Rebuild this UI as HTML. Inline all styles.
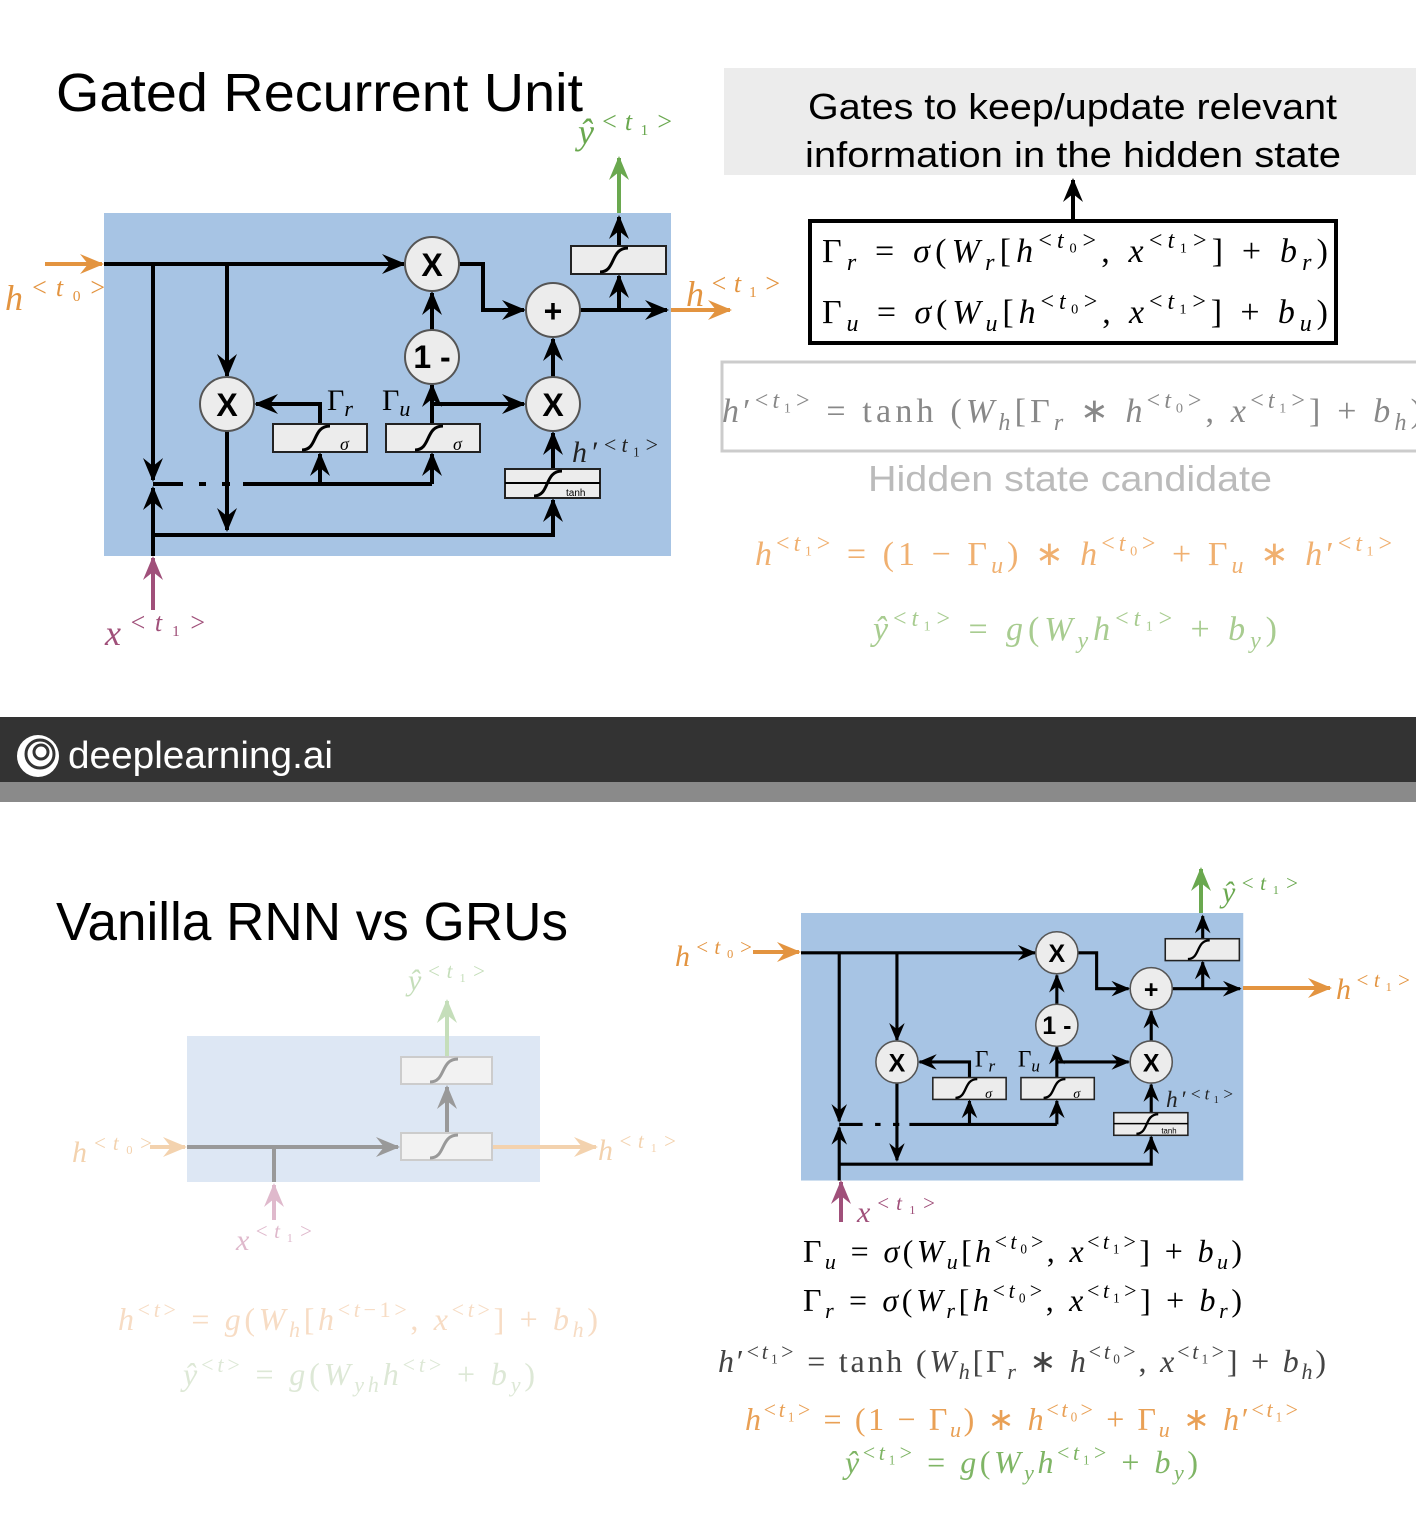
<!DOCTYPE html>
<html><head><meta charset="utf-8">
<style>
html,body{margin:0;padding:0;background:#fff;}
svg{display:block;}
.sf{font-family:"Liberation Serif",serif;}
.ss{font-family:"Liberation Sans",sans-serif;}
</style></head>
<body>
<svg width="1416" height="1516" viewBox="0 0 1416 1516" xmlns="http://www.w3.org/2000/svg">
<defs>
<marker id="ak" viewBox="0 0 12 10" refX="11" refY="5" markerWidth="24" markerHeight="20" markerUnits="userSpaceOnUse" orient="auto"><path d="M0,0 L12,5 L0,10 L4,5z" fill="#000"/></marker>
<marker id="ao" viewBox="0 0 12 10" refX="11" refY="5" markerWidth="24" markerHeight="20" markerUnits="userSpaceOnUse" orient="auto"><path d="M0,0 L12,5 L0,10 L4,5z" fill="#e39440"/></marker>
<marker id="ag" viewBox="0 0 12 10" refX="11" refY="5" markerWidth="24" markerHeight="20" markerUnits="userSpaceOnUse" orient="auto"><path d="M0,0 L12,5 L0,10 L4,5z" fill="#6aa84f"/></marker>
<marker id="ap" viewBox="0 0 12 10" refX="11" refY="5" markerWidth="24" markerHeight="20" markerUnits="userSpaceOnUse" orient="auto"><path d="M0,0 L12,5 L0,10 L4,5z" fill="#a0507a"/></marker>
<marker id="fk" viewBox="0 0 12 10" refX="11" refY="5" markerWidth="24" markerHeight="20" markerUnits="userSpaceOnUse" orient="auto"><path d="M0,0 L12,5 L0,10 L4,5z" fill="#999"/></marker>
<marker id="fo" viewBox="0 0 12 10" refX="11" refY="5" markerWidth="24" markerHeight="20" markerUnits="userSpaceOnUse" orient="auto"><path d="M0,0 L12,5 L0,10 L4,5z" fill="#f3d2ae"/></marker>
<marker id="fg" viewBox="0 0 12 10" refX="11" refY="5" markerWidth="24" markerHeight="20" markerUnits="userSpaceOnUse" orient="auto"><path d="M0,0 L12,5 L0,10 L4,5z" fill="#c5deba"/></marker>
<marker id="fp" viewBox="0 0 12 10" refX="11" refY="5" markerWidth="24" markerHeight="20" markerUnits="userSpaceOnUse" orient="auto"><path d="M0,0 L12,5 L0,10 L4,5z" fill="#dfb9cc"/></marker>
</defs>

<!-- TOP TITLE -->
<text x="56" y="111" class="ss" font-size="54" fill="#000" textLength="527" lengthAdjust="spacingAndGlyphs">Gated Recurrent Unit</text>

<!-- TOP GRU -->
<g>
<rect x="104" y="213" width="567" height="343" fill="#a7c4e4"/>
<g stroke="#000" stroke-width="4" fill="none">
<path d="M104,264 H404" marker-end="url(#ak)"/>
<path d="M153,264 V480" marker-end="url(#ak)"/>
<path d="M227,264 V376" marker-end="url(#ak)"/>
<path d="M227,431 V530" marker-end="url(#ak)"/>
<path d="M153,556 V488" marker-end="url(#ak)"/>
<path d="M153,535 H553 V500" marker-end="url(#ak)"/>
<path d="M153,484 H183 M199,484 H206 M222,484 H230 M243,484 H432"/>
<path d="M320,484 V454" marker-end="url(#ak)"/>
<path d="M432,484 V454" marker-end="url(#ak)"/>
<path d="M320,424 V404 H256" marker-end="url(#ak)"/>
<path d="M432,424 V385" marker-end="url(#ak)"/>
<path d="M432,404 H524" marker-end="url(#ak)"/>
<path d="M432,330 V293" marker-end="url(#ak)"/>
<path d="M459,264 H483 V310 H524" marker-end="url(#ak)"/>
<path d="M553,377 V339" marker-end="url(#ak)"/>
<path d="M553,469 V433" marker-end="url(#ak)"/>
<path d="M580,310 H667" marker-end="url(#ak)"/>
<path d="M619,310 V276" marker-end="url(#ak)"/>
<path d="M619,246 V217" marker-end="url(#ak)"/>
</g>
<g fill="#ececec" stroke="#555" stroke-width="2">
<circle cx="432" cy="264" r="27"/><circle cx="553" cy="310" r="27"/><circle cx="432" cy="357" r="27"/>
<circle cx="227" cy="404" r="27"/><circle cx="553" cy="404" r="27"/>
</g>
<g fill="#ececec" stroke="#222" stroke-width="2">
<rect x="273" y="424" width="94" height="28"/><rect x="386" y="424" width="94" height="28"/>
<rect x="571" y="246" width="95" height="28"/><rect x="505" y="469" width="95" height="29"/>
</g>
<path d="M505,483 H600" stroke="#000" stroke-width="2"/>
<g stroke="#000" stroke-width="3" fill="none">
<path d="M302,450 C318,450 312,426 330,426"/><path d="M415,450 C431,450 425,426 443,426"/>
<path d="M600,272 C616,272 610,248 628,248"/><path d="M534,496 C550,496 544,471 562,471"/>
</g>
<g class="sf" font-style="italic" font-size="18" fill="#000"><text x="340" y="450">σ</text><text x="453" y="450">σ</text></g>
<text x="566" y="496" class="ss" font-size="10">tanh</text>
<g class="ss" font-weight="bold" font-size="32" fill="#000" text-anchor="middle">
<text x="432" y="276">X</text><text x="553" y="322">+</text><text x="432" y="368">1 -</text>
<text x="227" y="416">X</text><text x="553" y="416">X</text>
</g>
<text x="327" y="410" class="sf" font-size="30">Γ<tspan font-style="italic" font-size="22" dy="6">r</tspan></text>
<text x="382" y="410" class="sf" font-size="30">Γ<tspan font-style="italic" font-size="22" dy="6">u</tspan></text>
<text x="572" y="462" class="sf" font-size="30" fill="#222" textLength="86" lengthAdjust="spacing"><tspan font-style="italic">h</tspan>′<tspan font-size="22" dy="-10">&lt;<tspan font-style="italic">t</tspan>₁&gt;</tspan></text>
</g>

<!-- top colored arrows -->
<path d="M45,264 H102" stroke="#e39440" stroke-width="4" marker-end="url(#ao)"/>
<path d="M671,310 H730" stroke="#e39440" stroke-width="4" marker-end="url(#ao)"/>
<path d="M619,213 V158" stroke="#6aa84f" stroke-width="4" marker-end="url(#ag)"/>
<path d="M153,610 V558" stroke="#a0507a" stroke-width="4" marker-end="url(#ap)"/>
<text x="5" y="310" class="sf" font-size="36" fill="#e39440" textLength="100" lengthAdjust="spacing"><tspan font-style="italic">h</tspan><tspan font-size="26" dy="-14">&lt;<tspan font-style="italic">t</tspan>₀&gt;</tspan></text>
<text x="686" y="306" class="sf" font-size="36" fill="#e39440" textLength="94" lengthAdjust="spacing"><tspan font-style="italic">h</tspan><tspan font-size="26" dy="-14">&lt;<tspan font-style="italic">t</tspan>₁&gt;</tspan></text>
<text x="578" y="144" class="sf" font-size="36" fill="#6aa84f" textLength="94" lengthAdjust="spacing"><tspan font-style="italic">ŷ</tspan><tspan font-size="26" dy="-14">&lt;<tspan font-style="italic">t</tspan>₁&gt;</tspan></text>
<text x="105" y="645" class="sf" font-size="36" fill="#a0507a" textLength="100" lengthAdjust="spacing"><tspan font-style="italic">x</tspan><tspan font-size="26" dy="-14">&lt;<tspan font-style="italic">t</tspan>₁&gt;</tspan></text>

<!-- right panel -->
<rect x="724" y="68" width="692" height="107" fill="#ececec"/>
<text x="808" y="119" class="ss" font-size="36" textLength="529" lengthAdjust="spacingAndGlyphs">Gates to keep/update relevant</text>
<text x="805" y="167" class="ss" font-size="36" textLength="536" lengthAdjust="spacingAndGlyphs">information in the hidden state</text>
<path d="M1073,220 V180" stroke="#000" stroke-width="4" marker-end="url(#ak)"/>
<rect x="810" y="221" width="526" height="122" fill="#fff" stroke="#000" stroke-width="4"/>
<g class="sf" font-size="34" fill="#000">
<text x="822" y="262" textLength="506" lengthAdjust="spacing">Γ<tspan font-style="italic" font-size="24" dy="8">r</tspan><tspan dy="-8"> = </tspan><tspan font-style="italic">σ</tspan>(<tspan font-style="italic">W</tspan><tspan font-style="italic" font-size="24" dy="8">r</tspan><tspan dy="-8">[</tspan><tspan font-style="italic">h</tspan><tspan font-size="24" dy="-14">&lt;<tspan font-style="italic">t</tspan>₀&gt;</tspan><tspan dy="14">, </tspan><tspan font-style="italic">x</tspan><tspan font-size="24" dy="-14">&lt;<tspan font-style="italic">t</tspan>₁&gt;</tspan><tspan dy="14">] + </tspan><tspan font-style="italic">b</tspan><tspan font-style="italic" font-size="24" dy="8">r</tspan><tspan dy="-8">)</tspan></text>
<text x="822" y="323" textLength="506" lengthAdjust="spacing">Γ<tspan font-style="italic" font-size="24" dy="8">u</tspan><tspan dy="-8"> = </tspan><tspan font-style="italic">σ</tspan>(<tspan font-style="italic">W</tspan><tspan font-style="italic" font-size="24" dy="8">u</tspan><tspan dy="-8">[</tspan><tspan font-style="italic">h</tspan><tspan font-size="24" dy="-14">&lt;<tspan font-style="italic">t</tspan>₀&gt;</tspan><tspan dy="14">, </tspan><tspan font-style="italic">x</tspan><tspan font-size="24" dy="-14">&lt;<tspan font-style="italic">t</tspan>₁&gt;</tspan><tspan dy="14">] + </tspan><tspan font-style="italic">b</tspan><tspan font-style="italic" font-size="24" dy="8">u</tspan><tspan dy="-8">)</tspan></text>
</g>
<rect x="722" y="362" width="700" height="89" fill="#fff" stroke="#ccc" stroke-width="3"/>
<text x="722" y="422" class="sf" font-size="34" fill="#888" textLength="700" lengthAdjust="spacing"><tspan font-style="italic">h</tspan>′<tspan font-size="24" dy="-14">&lt;<tspan font-style="italic">t</tspan>₁&gt;</tspan><tspan dy="14"> = tanh (</tspan><tspan font-style="italic">W</tspan><tspan font-style="italic" font-size="24" dy="8">h</tspan><tspan dy="-8">[Γ</tspan><tspan font-style="italic" font-size="24" dy="8">r</tspan><tspan dy="-8"> ∗ </tspan><tspan font-style="italic">h</tspan><tspan font-size="24" dy="-14">&lt;<tspan font-style="italic">t</tspan>₀&gt;</tspan><tspan dy="14">, </tspan><tspan font-style="italic">x</tspan><tspan font-size="24" dy="-14">&lt;<tspan font-style="italic">t</tspan>₁&gt;</tspan><tspan dy="14">] + </tspan><tspan font-style="italic">b</tspan><tspan font-style="italic" font-size="24" dy="8">h</tspan><tspan dy="-8">)</tspan></text>
<text x="868" y="491" class="ss" font-size="36" fill="#bbb" textLength="404" lengthAdjust="spacingAndGlyphs">Hidden state candidate</text>
<text x="755" y="565" class="sf" font-size="34" fill="#f0b070" textLength="637" lengthAdjust="spacing"><tspan font-style="italic">h</tspan><tspan font-size="24" dy="-14">&lt;<tspan font-style="italic">t</tspan>₁&gt;</tspan><tspan dy="14"> = (1 − Γ</tspan><tspan font-style="italic" font-size="24" dy="8">u</tspan><tspan dy="-8">) ∗ </tspan><tspan font-style="italic">h</tspan><tspan font-size="24" dy="-14">&lt;<tspan font-style="italic">t</tspan>₀&gt;</tspan><tspan dy="14"> + Γ</tspan><tspan font-style="italic" font-size="24" dy="8">u</tspan><tspan dy="-8"> ∗ </tspan><tspan font-style="italic">h</tspan>′<tspan font-size="24" dy="-14">&lt;<tspan font-style="italic">t</tspan>₁&gt;</tspan></text>
<text x="873" y="640" class="sf" font-size="34" fill="#a8cc90" textLength="404" lengthAdjust="spacing"><tspan font-style="italic">ŷ</tspan><tspan font-size="24" dy="-14">&lt;<tspan font-style="italic">t</tspan>₁&gt;</tspan><tspan dy="14"> = </tspan><tspan font-style="italic">g</tspan>(<tspan font-style="italic">W</tspan><tspan font-style="italic" font-size="24" dy="8">y</tspan><tspan dy="-8" font-style="italic">h</tspan><tspan font-size="24" dy="-14">&lt;<tspan font-style="italic">t</tspan>₁&gt;</tspan><tspan dy="14"> + </tspan><tspan font-style="italic">b</tspan><tspan font-style="italic" font-size="24" dy="8">y</tspan><tspan dy="-8">)</tspan></text>

<!-- dark bar -->
<rect x="0" y="717" width="1416" height="65" fill="#333"/>
<rect x="0" y="782" width="1416" height="20" fill="#8a8a8a"/>
<circle cx="38" cy="756" r="21" fill="#fff"/>
<circle cx="40" cy="754" r="14" fill="none" stroke="#333" stroke-width="3"/>
<circle cx="41" cy="752" r="7" fill="none" stroke="#333" stroke-width="3"/>
<text x="68" y="768" class="ss" font-size="38" fill="#fff" textLength="265" lengthAdjust="spacingAndGlyphs">deeplearning.ai</text>

<!-- BOTTOM -->
<text x="56" y="940" class="ss" font-size="54" fill="#000" textLength="512" lengthAdjust="spacingAndGlyphs">Vanilla RNN vs GRUs</text>

<!-- faded RNN -->
<rect x="187" y="1036" width="353" height="146" fill="#dde7f4"/>
<path d="M150,1147 H185" stroke="#f3d2ae" stroke-width="4" marker-end="url(#fo)"/>
<path d="M187,1147 H398" stroke="#999" stroke-width="4" marker-end="url(#fk)"/>
<path d="M274,1147 V1182" stroke="#999" stroke-width="4"/>
<path d="M274,1220 V1185" stroke="#dfb9cc" stroke-width="4" marker-end="url(#fp)"/>
<path d="M492,1147 H596" stroke="#f3d2ae" stroke-width="4" marker-end="url(#fo)"/>
<path d="M447,1133 V1087" stroke="#999" stroke-width="4" marker-end="url(#fk)"/>
<path d="M447,1057 V1001" stroke="#c5deba" stroke-width="4" marker-end="url(#fg)"/>
<rect x="401" y="1133" width="91" height="27" fill="#f2f2f2" stroke="#ccc" stroke-width="2"/>
<rect x="401" y="1057" width="91" height="27" fill="#f2f2f2" stroke="#ccc" stroke-width="2"/>
<path d="M430,1158 C446,1158 440,1135 458,1135" stroke="#999" stroke-width="3" fill="none"/>
<path d="M430,1082 C446,1082 440,1059 458,1059" stroke="#999" stroke-width="3" fill="none"/>
<text x="72" y="1162" class="sf" font-size="30" fill="#f3d2ae" textLength="80" lengthAdjust="spacing"><tspan font-style="italic">h</tspan><tspan font-size="21" dy="-12">&lt;<tspan font-style="italic">t</tspan>₀&gt;</tspan></text>
<text x="598" y="1160" class="sf" font-size="30" fill="#f3d2ae" textLength="78" lengthAdjust="spacing"><tspan font-style="italic">h</tspan><tspan font-size="21" dy="-12">&lt;<tspan font-style="italic">t</tspan>₁&gt;</tspan></text>
<text x="408" y="990" class="sf" font-size="30" fill="#c5deba" textLength="77" lengthAdjust="spacing"><tspan font-style="italic">ŷ</tspan><tspan font-size="21" dy="-12">&lt;<tspan font-style="italic">t</tspan>₁&gt;</tspan></text>
<text x="236" y="1250" class="sf" font-size="30" fill="#dfb9cc" textLength="76" lengthAdjust="spacing"><tspan font-style="italic">x</tspan><tspan font-size="21" dy="-12">&lt;<tspan font-style="italic">t</tspan>₁&gt;</tspan></text>
<text x="118" y="1330" class="sf" font-size="32" fill="#f7dcc4" textLength="480" lengthAdjust="spacing"><tspan font-style="italic">h</tspan><tspan font-size="22" dy="-13">&lt;<tspan font-style="italic">t</tspan>&gt;</tspan><tspan dy="13"> = </tspan><tspan font-style="italic">g</tspan>(<tspan font-style="italic">W</tspan><tspan font-style="italic" font-size="22" dy="7">h</tspan><tspan dy="-7">[</tspan><tspan font-style="italic">h</tspan><tspan font-size="22" dy="-13">&lt;<tspan font-style="italic">t</tspan>−1&gt;</tspan><tspan dy="13">, </tspan><tspan font-style="italic">x</tspan><tspan font-size="22" dy="-13">&lt;<tspan font-style="italic">t</tspan>&gt;</tspan><tspan dy="13">] + </tspan><tspan font-style="italic">b</tspan><tspan font-style="italic" font-size="22" dy="7">h</tspan><tspan dy="-7">)</tspan></text>
<text x="183" y="1385" class="sf" font-size="32" fill="#dde8d6" textLength="352" lengthAdjust="spacing"><tspan font-style="italic">ŷ</tspan><tspan font-size="22" dy="-13">&lt;<tspan font-style="italic">t</tspan>&gt;</tspan><tspan dy="13"> = </tspan><tspan font-style="italic">g</tspan>(<tspan font-style="italic">W</tspan><tspan font-style="italic" font-size="22" dy="7">yh</tspan><tspan dy="-7" font-style="italic">h</tspan><tspan font-size="22" dy="-13">&lt;<tspan font-style="italic">t</tspan>&gt;</tspan><tspan dy="13"> + </tspan><tspan font-style="italic">b</tspan><tspan font-style="italic" font-size="22" dy="7">y</tspan><tspan dy="-7">)</tspan></text>

<!-- BOTTOM GRU (scaled copy) -->
<g transform="translate(801,913) scale(0.78) translate(-104,-213)">
<rect x="104" y="213" width="567" height="343" fill="#a7c4e4"/>
<g stroke="#000" stroke-width="4" fill="none">
<path d="M104,264 H404" marker-end="url(#ak)"/>
<path d="M153,264 V480" marker-end="url(#ak)"/>
<path d="M227,264 V376" marker-end="url(#ak)"/>
<path d="M227,431 V530" marker-end="url(#ak)"/>
<path d="M153,556 V488" marker-end="url(#ak)"/>
<path d="M153,535 H553 V500" marker-end="url(#ak)"/>
<path d="M153,484 H183 M199,484 H206 M222,484 H230 M243,484 H432"/>
<path d="M320,484 V454" marker-end="url(#ak)"/>
<path d="M432,484 V454" marker-end="url(#ak)"/>
<path d="M320,424 V404 H256" marker-end="url(#ak)"/>
<path d="M432,424 V385" marker-end="url(#ak)"/>
<path d="M432,404 H524" marker-end="url(#ak)"/>
<path d="M432,330 V293" marker-end="url(#ak)"/>
<path d="M459,264 H483 V310 H524" marker-end="url(#ak)"/>
<path d="M553,377 V339" marker-end="url(#ak)"/>
<path d="M553,469 V433" marker-end="url(#ak)"/>
<path d="M580,310 H667" marker-end="url(#ak)"/>
<path d="M619,310 V276" marker-end="url(#ak)"/>
<path d="M619,246 V217" marker-end="url(#ak)"/>
</g>
<g fill="#ececec" stroke="#555" stroke-width="2">
<circle cx="432" cy="264" r="27"/><circle cx="553" cy="310" r="27"/><circle cx="432" cy="357" r="27"/>
<circle cx="227" cy="404" r="27"/><circle cx="553" cy="404" r="27"/>
</g>
<g fill="#ececec" stroke="#222" stroke-width="2">
<rect x="273" y="424" width="94" height="28"/><rect x="386" y="424" width="94" height="28"/>
<rect x="571" y="246" width="95" height="28"/><rect x="505" y="469" width="95" height="29"/>
</g>
<path d="M505,483 H600" stroke="#000" stroke-width="2"/>
<g stroke="#000" stroke-width="3" fill="none">
<path d="M302,450 C318,450 312,426 330,426"/><path d="M415,450 C431,450 425,426 443,426"/>
<path d="M600,272 C616,272 610,248 628,248"/><path d="M534,496 C550,496 544,471 562,471"/>
</g>
<g class="sf" font-style="italic" font-size="18" fill="#000"><text x="340" y="450">σ</text><text x="453" y="450">σ</text></g>
<text x="566" y="496" class="ss" font-size="10">tanh</text>
<g class="ss" font-weight="bold" font-size="32" fill="#000" text-anchor="middle">
<text x="432" y="276">X</text><text x="553" y="322">+</text><text x="432" y="368">1 -</text>
<text x="227" y="416">X</text><text x="553" y="416">X</text>
</g>
<text x="327" y="410" class="sf" font-size="30">Γ<tspan font-style="italic" font-size="22" dy="6">r</tspan></text>
<text x="382" y="410" class="sf" font-size="30">Γ<tspan font-style="italic" font-size="22" dy="6">u</tspan></text>
<text x="572" y="462" class="sf" font-size="30" fill="#222" textLength="86" lengthAdjust="spacing"><tspan font-style="italic">h</tspan>′<tspan font-size="22" dy="-10">&lt;<tspan font-style="italic">t</tspan>₁&gt;</tspan></text>
</g>

<path d="M753,952 H799" stroke="#e39440" stroke-width="4" marker-end="url(#ao)"/>
<path d="M1243,988 H1330" stroke="#e39440" stroke-width="4" marker-end="url(#ao)"/>
<path d="M1201,913 V869" stroke="#6aa84f" stroke-width="4" marker-end="url(#ag)"/>
<path d="M841,1222 V1182" stroke="#a0507a" stroke-width="4" marker-end="url(#ap)"/>
<text x="675" y="966" class="sf" font-size="30" fill="#e39440" textLength="77" lengthAdjust="spacing"><tspan font-style="italic">h</tspan><tspan font-size="21" dy="-12">&lt;<tspan font-style="italic">t</tspan>₀&gt;</tspan></text>
<text x="1336" y="999" class="sf" font-size="30" fill="#e39440" textLength="74" lengthAdjust="spacing"><tspan font-style="italic">h</tspan><tspan font-size="21" dy="-12">&lt;<tspan font-style="italic">t</tspan>₁&gt;</tspan></text>
<text x="1222" y="902" class="sf" font-size="30" fill="#6aa84f" textLength="76" lengthAdjust="spacing"><tspan font-style="italic">ŷ</tspan><tspan font-size="21" dy="-12">&lt;<tspan font-style="italic">t</tspan>₁&gt;</tspan></text>
<text x="857" y="1222" class="sf" font-size="30" fill="#a0507a" textLength="78" lengthAdjust="spacing"><tspan font-style="italic">x</tspan><tspan font-size="21" dy="-12">&lt;<tspan font-style="italic">t</tspan>₁&gt;</tspan></text>

<g class="sf" font-size="32" fill="#000">
<text x="803" y="1262" textLength="439" lengthAdjust="spacing">Γ<tspan font-style="italic" font-size="22" dy="7">u</tspan><tspan dy="-7"> = </tspan><tspan font-style="italic">σ</tspan>(<tspan font-style="italic">W</tspan><tspan font-style="italic" font-size="22" dy="7">u</tspan><tspan dy="-7">[</tspan><tspan font-style="italic">h</tspan><tspan font-size="22" dy="-13">&lt;<tspan font-style="italic">t</tspan>₀&gt;</tspan><tspan dy="13">, </tspan><tspan font-style="italic">x</tspan><tspan font-size="22" dy="-13">&lt;<tspan font-style="italic">t</tspan>₁&gt;</tspan><tspan dy="13">] + </tspan><tspan font-style="italic">b</tspan><tspan font-style="italic" font-size="22" dy="7">u</tspan><tspan dy="-7">)</tspan></text>
<text x="803" y="1311" textLength="439" lengthAdjust="spacing">Γ<tspan font-style="italic" font-size="22" dy="7">r</tspan><tspan dy="-7"> = </tspan><tspan font-style="italic">σ</tspan>(<tspan font-style="italic">W</tspan><tspan font-style="italic" font-size="22" dy="7">r</tspan><tspan dy="-7">[</tspan><tspan font-style="italic">h</tspan><tspan font-size="22" dy="-13">&lt;<tspan font-style="italic">t</tspan>₀&gt;</tspan><tspan dy="13">, </tspan><tspan font-style="italic">x</tspan><tspan font-size="22" dy="-13">&lt;<tspan font-style="italic">t</tspan>₁&gt;</tspan><tspan dy="13">] + </tspan><tspan font-style="italic">b</tspan><tspan font-style="italic" font-size="22" dy="7">r</tspan><tspan dy="-7">)</tspan></text>
</g>
<text x="718" y="1372" class="sf" font-size="32" fill="#444" textLength="608" lengthAdjust="spacing"><tspan font-style="italic">h</tspan>′<tspan font-size="22" dy="-13">&lt;<tspan font-style="italic">t</tspan>₁&gt;</tspan><tspan dy="13"> = tanh (</tspan><tspan font-style="italic">W</tspan><tspan font-style="italic" font-size="22" dy="7">h</tspan><tspan dy="-7">[Γ</tspan><tspan font-style="italic" font-size="22" dy="7">r</tspan><tspan dy="-7"> ∗ </tspan><tspan font-style="italic">h</tspan><tspan font-size="22" dy="-13">&lt;<tspan font-style="italic">t</tspan>₀&gt;</tspan><tspan dy="13">, </tspan><tspan font-style="italic">x</tspan><tspan font-size="22" dy="-13">&lt;<tspan font-style="italic">t</tspan>₁&gt;</tspan><tspan dy="13">] + </tspan><tspan font-style="italic">b</tspan><tspan font-style="italic" font-size="22" dy="7">h</tspan><tspan dy="-7">)</tspan></text>
<text x="745" y="1430" class="sf" font-size="32" fill="#e9a055" textLength="553" lengthAdjust="spacing"><tspan font-style="italic">h</tspan><tspan font-size="22" dy="-13">&lt;<tspan font-style="italic">t</tspan>₁&gt;</tspan><tspan dy="13"> = (1 − Γ</tspan><tspan font-style="italic" font-size="22" dy="7">u</tspan><tspan dy="-7">) ∗ </tspan><tspan font-style="italic">h</tspan><tspan font-size="22" dy="-13">&lt;<tspan font-style="italic">t</tspan>₀&gt;</tspan><tspan dy="13"> + Γ</tspan><tspan font-style="italic" font-size="22" dy="7">u</tspan><tspan dy="-7"> ∗ </tspan><tspan font-style="italic">h</tspan>′<tspan font-size="22" dy="-13">&lt;<tspan font-style="italic">t</tspan>₁&gt;</tspan></text>
<text x="845" y="1473" class="sf" font-size="32" fill="#7fb565" textLength="353" lengthAdjust="spacing"><tspan font-style="italic">ŷ</tspan><tspan font-size="22" dy="-13">&lt;<tspan font-style="italic">t</tspan>₁&gt;</tspan><tspan dy="13"> = </tspan><tspan font-style="italic">g</tspan>(<tspan font-style="italic">W</tspan><tspan font-style="italic" font-size="22" dy="7">y</tspan><tspan dy="-7" font-style="italic">h</tspan><tspan font-size="22" dy="-13">&lt;<tspan font-style="italic">t</tspan>₁&gt;</tspan><tspan dy="13"> + </tspan><tspan font-style="italic">b</tspan><tspan font-style="italic" font-size="22" dy="7">y</tspan><tspan dy="-7">)</tspan></text>
</svg>
</body></html>
